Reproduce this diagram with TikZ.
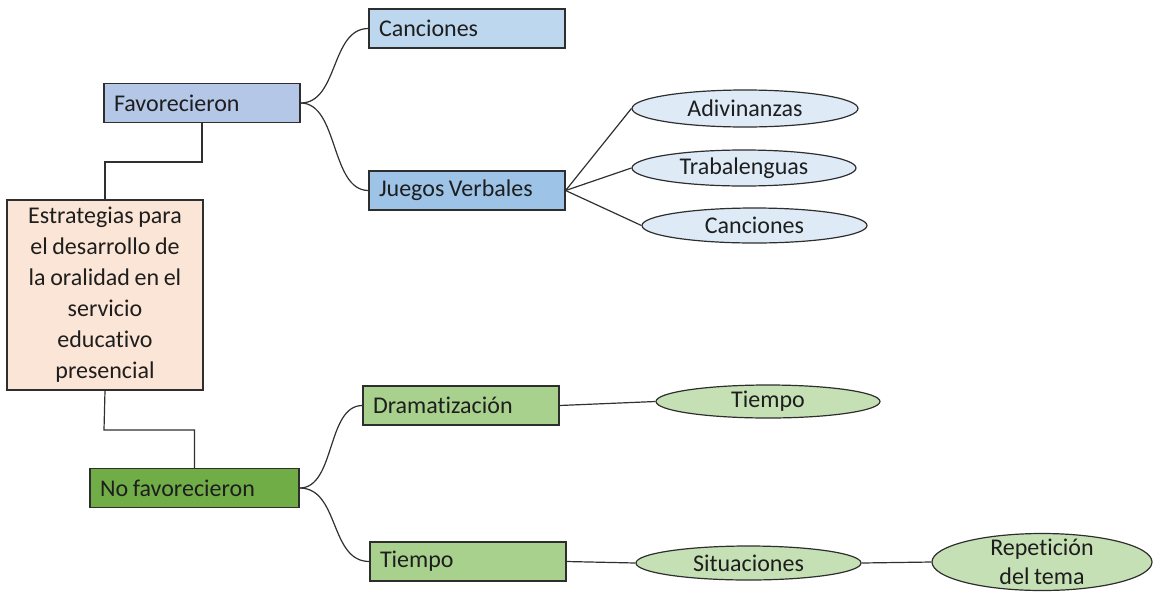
\documentclass[tikz,border=0pt]{standalone}
\usepackage{fontspec}
\setmainfont{Carlito}[Ligatures=NoCommon, WordSpace=0.85]
\usetikzlibrary{shapes.geometric}
\definecolor{bordc}{HTML}{2E2E2E}
\definecolor{linec}{HTML}{303030}
\definecolor{txtc}{HTML}{1E1E1E}
\definecolor{cblueA}{HTML}{BDD7EE}
\definecolor{cblueB}{HTML}{B4C7E7}
\definecolor{cblueC}{HTML}{9DC3E6}
\definecolor{cblueE}{HTML}{DEEBF7}
\definecolor{cpeach}{HTML}{FBE5D6}
\definecolor{cgreenA}{HTML}{A9D18E}
\definecolor{cgreenB}{HTML}{70AD47}
\definecolor{cgreenE}{HTML}{C5E0B4}
\tikzset{
  rbox/.style={rectangle, draw=bordc, line width=1.2pt, minimum height=39pt,
    text width=176pt, inner xsep=10pt, inner ysep=0pt, align=flush left,
    text=txtc, font=\fontsize{24}{28}\selectfont},
  ebox/.style={ellipse, draw=bordc, line width=1.2pt, inner sep=0pt,
    text=txtc, font=\fontsize{24}{28}\selectfont},
  conn/.style={draw=linec, line width=1.2pt},
}
\begin{document}
\begin{tikzpicture}[x=1pt,y=-1pt]
\useasboundingbox (0,0) rectangle (1155,592);
% rectangles
\node[rbox, fill=cblueA] (can1) at (467,28.5) {Canciones};
\node[rbox, fill=cblueB] (fav) at (202,103) {Favorecieron};
\node[rbox, fill=cblueC] (jue) at (467,190.5) {Juegos Verbales};
\node[rectangle, draw=bordc, line width=1.2pt, fill=cpeach, minimum width=196pt,
  minimum height=190pt, text width=190pt, align=flush center, inner sep=0pt, text=txtc,
  font=\fontsize{24}{31}\selectfont] (est) at (105,295)
  {Estrategias para\\el desarrollo de\\la oralidad en el\\servicio\\educativo\\presencial};
\node[rbox, fill=cgreenA] (dra) at (461,405.5) {Dramatización};
\node[rbox, fill=cgreenB, text width=189pt] (nof) at (194.5,488) {No favorecieron};
\node[rbox, fill=cgreenA] (tie) at (468,561.5) {Tiempo};
% ellipses
\node[ebox, fill=cblueE, minimum width=226pt, minimum height=37pt] (adi) at (745,108.5) {Adivinanzas};
\node[ebox, fill=cblueE, minimum width=224pt, minimum height=36pt] (tra) at (744,168) {Trabalenguas};
\node[ebox, fill=cblueE, minimum width=225pt, minimum height=35pt] (can2) at (754.5,225.5) {Canciones};
\node[ebox, fill=cgreenE, minimum width=224pt, minimum height=33pt] (tie2) at (768,401.5) {Tiempo};
\node[ebox, fill=cgreenE, minimum width=225pt, minimum height=34pt] (sit) at (748.5,563) {Situaciones};
\node[ebox, fill=cgreenE, minimum width=220pt, minimum height=57pt,
  label={[text=txtc, font=\fontsize{24}{29}\selectfont, align=center]center:Repetición\\del tema}] (rep) at (1042,562) {};
% connectors
\draw[conn] (fav.south) -- (202,162) -| (est.north);
\draw[conn] (est.south) -- (104,430) -| (nof.north);
\draw[conn] (fav.east) .. controls +(38,0) and +(-38,0) .. (can1.west);
\draw[conn] (fav.east) .. controls +(38,0) and +(-38,0) .. (jue.west);
\draw[conn] (jue.east) -- (adi.west);
\draw[conn] (jue.east) -- (tra.west);
\draw[conn] (jue.east) -- (can2.west);
\draw[conn] (nof.east) .. controls +(36,0) and +(-36,0) .. (dra.west);
\draw[conn] (nof.east) .. controls +(40,0) and +(-40,0) .. (tie.west);
\draw[conn] (dra.east) -- (tie2.west);
\draw[conn] (tie.east) -- (sit.west);
\draw[conn] (sit.east) -- (rep.west);
\end{tikzpicture}
\end{document}
